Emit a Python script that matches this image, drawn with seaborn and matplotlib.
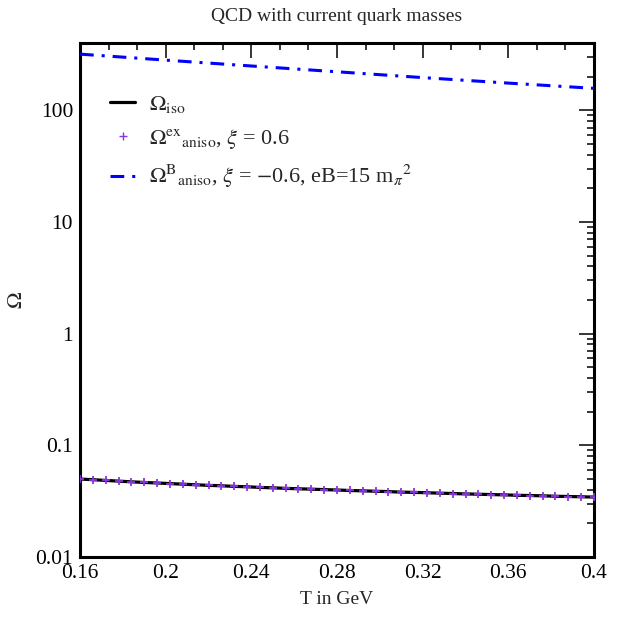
import numpy as np
import pandas as pd
import matplotlib
matplotlib.use("Agg")
import matplotlib.pyplot as plt
from matplotlib.ticker import FixedLocator, MultipleLocator, LogLocator, NullFormatter
from matplotlib.lines import Line2D
import seaborn as sns

# ---- data ----
T_iso = [0.160, 0.166, 0.172, 0.178, 0.184, 0.190, 0.196, 0.202, 0.208, 0.214,
         0.220, 0.226, 0.232, 0.238, 0.244, 0.250, 0.256, 0.262, 0.268, 0.274,
         0.280, 0.286, 0.292, 0.298, 0.304, 0.310, 0.316, 0.322, 0.328, 0.334,
         0.340, 0.346, 0.352, 0.358, 0.364, 0.370, 0.376, 0.382, 0.388, 0.394, 0.400]
omega_iso = [0.0499, 0.0492, 0.0485, 0.0478, 0.0471, 0.0465, 0.0460, 0.0454, 0.0449, 0.0443,
             0.0438, 0.0434, 0.0429, 0.0425, 0.0420, 0.0416, 0.0412, 0.0408, 0.0405, 0.0401,
             0.0398, 0.0394, 0.0391, 0.0388, 0.0385, 0.0381, 0.0379, 0.0376, 0.0373, 0.0370,
             0.0367, 0.0365, 0.0362, 0.0360, 0.0357, 0.0355, 0.0353, 0.0350, 0.0348, 0.0346, 0.0344]
omega_ex = list(omega_iso)  # anisotropic (xi = 0.6) overlaps the isotropic curve

T_B = [0.16, 0.20, 0.24, 0.28, 0.32, 0.36, 0.40]
omega_B = [318, 281, 249, 221, 196, 175, 157]

xticks = [0.16, 0.2, 0.24, 0.28, 0.32, 0.36, 0.4]
xticklabels = ["0.16", "0.2", "0.24", "0.28", "0.32", "0.36", "0.4"]
yticks = [0.01, 0.1, 1, 10, 100]
yticklabels = ["0.01", "0.1", "1", "10", "100"]

title = "QCD with current quark masses"
xlabel = "T in GeV"
ylabel = r"$\Omega$"
lab_iso = r"$\Omega_{\rm iso}$"
lab_ex = r"$\Omega^{\rm ex}{}_{\rm aniso}$, $\xi$ = 0.6"
lab_B = r"$\Omega^{\rm B}{}_{\rm aniso}$, $\xi$ = $-$0.6, eB=15 m$_{\pi}{}^{2}$"

# ---- style ----
sns.set_theme(style="white")
plt.rcParams["font.family"] = ["Liberation Serif", "DejaVu Serif"]
plt.rcParams["mathtext.fontset"] = "stix"

df_iso = pd.DataFrame({"T": T_iso, "Omega": omega_iso})
df_ex = pd.DataFrame({"T": T_iso, "Omega": omega_ex})
df_B = pd.DataFrame({"T": T_B, "Omega": omega_B})

fig = plt.figure(figsize=(6.28, 6.18), dpi=100)
ax = fig.add_axes([80/628, 1-557/618, 514/628, 514/618])

sns.lineplot(data=df_iso, x="T", y="Omega", ax=ax, color="black", lw=2.3, zorder=3)
sns.scatterplot(data=df_ex, x="T", y="Omega", ax=ax, marker="+", color="#8a35e0",
                s=40, linewidth=1.3, zorder=4)
sns.lineplot(data=df_B, x="T", y="Omega", ax=ax, color="#0000ff", lw=2.2,
             dashes=False, zorder=3)
ax.lines[-1].set_linestyle((0, (4.5, 2.6, 1.0, 2.6)))

ax.set_yscale("log")
ax.set_xlim(0.16, 0.4)
ax.set_ylim(0.01, 400)

ax.xaxis.set_major_locator(FixedLocator(xticks))
ax.set_xticklabels(xticklabels)
ax.xaxis.set_minor_locator(MultipleLocator(0.04/3))
ax.yaxis.set_major_locator(FixedLocator(yticks))
ax.set_yticklabels(yticklabels)
ax.yaxis.set_minor_locator(LogLocator(base=10, subs=np.arange(2, 10)))
ax.yaxis.set_minor_formatter(NullFormatter())

ax.tick_params(which="both", direction="in", top=True, right=True, colors="black",
               labelsize=15.5, width=1.1)
ax.tick_params(which="major", length=11, pad=5)
ax.tick_params(which="minor", length=5)
for s in ax.spines.values():
    s.set_linewidth(2.2)
    s.set_color("black")

ax.set_title(title, fontsize=14, pad=16)
ax.set_xlabel(xlabel, fontsize=14, labelpad=6)
ax.set_ylabel(ylabel, fontsize=16, labelpad=6)

handles = [
    Line2D([], [], color="black", lw=2.3),
    Line2D([], [], color="#8a35e0", marker="+", ls="", ms=6, mew=1.0),
    Line2D([], [], color="#0000ff", lw=2.2, ls=(0, (4.5, 2.6, 1.0, 2.6))),
]
ax.legend(handles, [lab_iso, lab_ex, lab_B], loc="upper left",
          bbox_to_anchor=(0.02, 0.94), frameon=False, fontsize=16,
          handlelength=1.1, handletextpad=0.65, labelspacing=0.55)

fig.savefig("out.png", dpi=100)
